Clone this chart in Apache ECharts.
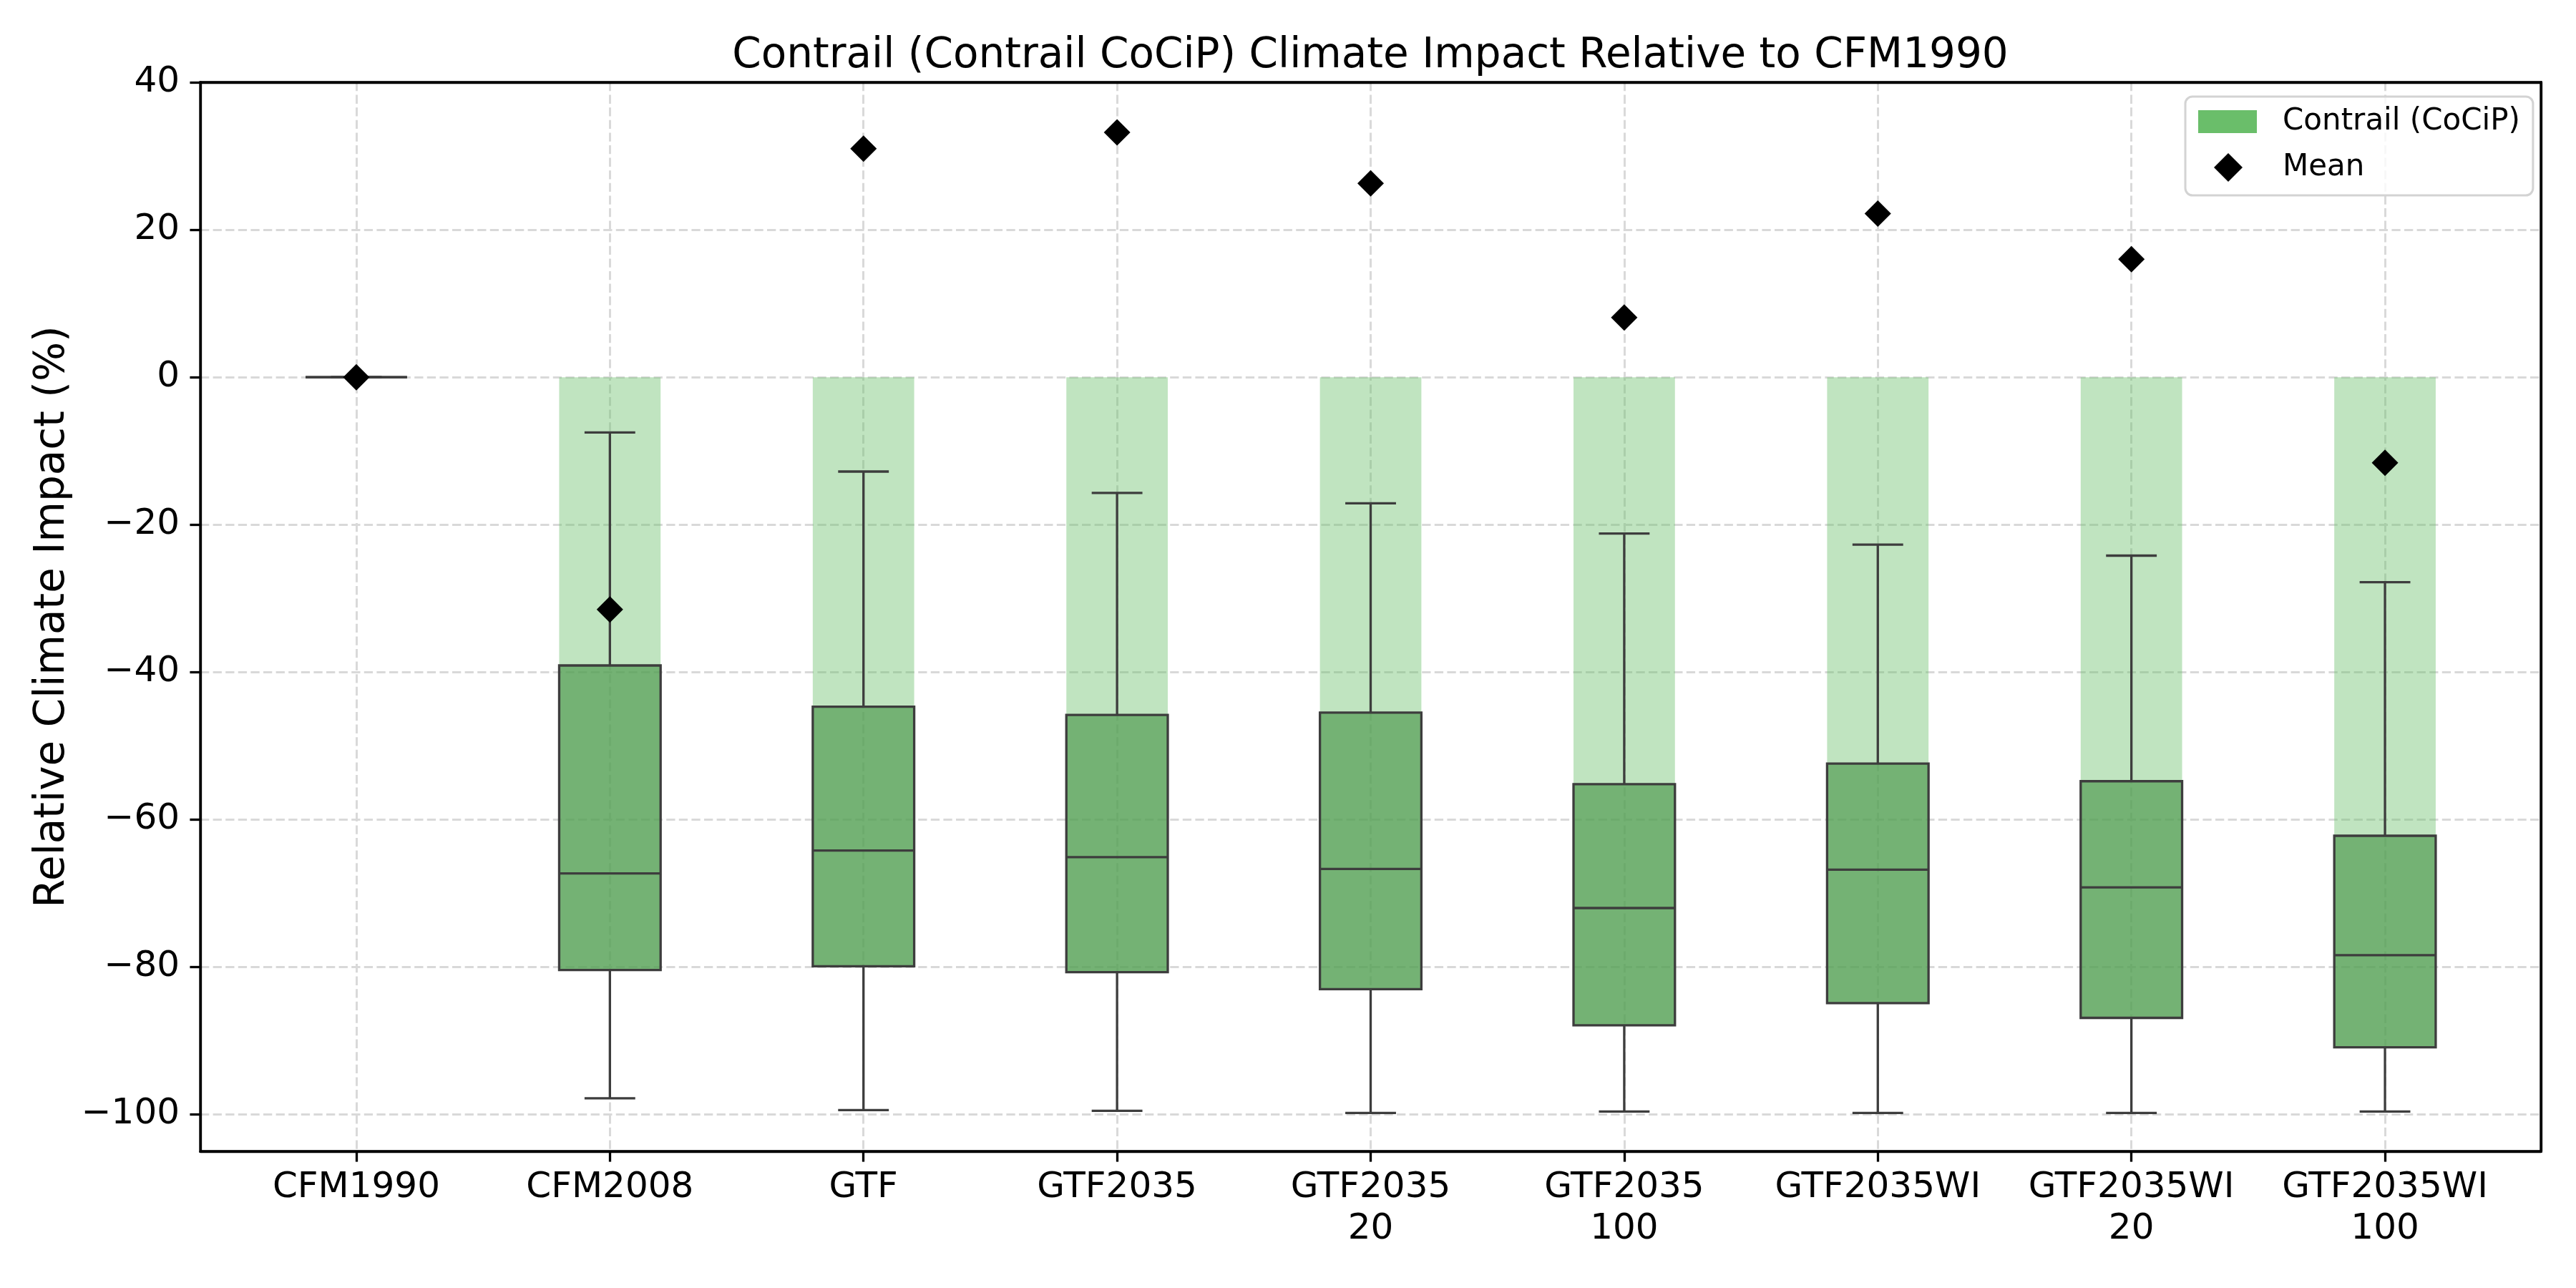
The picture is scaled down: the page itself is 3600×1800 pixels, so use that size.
<!DOCTYPE html>
<html>
<head>
<meta charset="utf-8">
<script src="https://cdn.jsdelivr.net/npm/echarts@6.0.0/dist/echarts.min.js"></script>
<style>
html, body { margin: 0; padding: 0; background: #fff; }
#chart { width: 3600px; height: 1800px; }
</style>
</head>
<body>
<div id="chart"></div>
<script>
// values
var categories = ['CFM1990', 'CFM2008', 'GTF', 'GTF2035', 'GTF2035\n20', 'GTF2035\n100', 'GTF2035WI', 'GTF2035WI\n20', 'GTF2035WI\n100'];
var whiskerLow = [0, -97.8, -99.4, -99.5, -99.8, -99.6, -99.8, -99.8, -99.6];
var q1 = [0, -80.4, -79.9, -80.7, -83.0, -87.9, -84.9, -86.9, -90.9];
var median = [0, -67.3, -64.2, -65.1, -66.7, -72.0, -66.8, -69.2, -78.4];
var q3 = [0, -39.1, -44.7, -45.8, -45.5, -55.2, -52.4, -54.8, -62.2];
var whiskerHigh = [0, -7.5, -12.8, -15.7, -17.1, -21.2, -22.7, -24.2, -27.8];
var means = [0, -31.5, 31.0, 33.2, 26.3, 8.1, 22.2, 16.0, -11.6];
var yTicks = [-100, -80, -60, -40, -20, 0, 20, 40];

var font = 'DejaVu Sans';
var edge = '#3d3d3d';
var boxW = 0.4, capW = 0.2;
var xMin = -0.615, xMax = 8.615, yMin = -105, yMax = 40;

var xPos = categories.map(function (c, i) { return i; });
// light bar goes from 0 down to the upper quartile
var barData = xPos.map(function (x, i) { return [x, q3[i]]; });
var boxData = xPos.map(function (x, i) {
	return [x, whiskerLow[i], q1[i], median[i], q3[i], whiskerHigh[i]];
});
var meanData = xPos.map(function (x, i) { return [x, means[i]]; });

function minus(v) {
	return v < 0 ? '\u2212' + Math.abs(v) : String(v);
}

function renderBar(params, api) {
	var x = api.value(0);
	var w = api.size([boxW, 0])[0];
	var a = api.coord([x, 0]), b = api.coord([x, api.value(1)]);
	return {
		type: 'rect',
		shape: { x: a[0] - w / 2, y: Math.min(a[1], b[1]), width: w, height: Math.abs(b[1] - a[1]) },
		style: { fill: 'rgba(106,190,105,0.42)' }
	};
}

function renderBox(params, api) {
	var x = api.value(0);
	var w = api.size([boxW, 0])[0], cw = api.size([capW, 0])[0];
	var lo = api.coord([x, api.value(1)]),
		b1 = api.coord([x, api.value(2)]),
		md = api.coord([x, api.value(3)]),
		b3 = api.coord([x, api.value(4)]),
		hi = api.coord([x, api.value(5)]);
	var cx = lo[0];
	var line = { stroke: edge, lineWidth: 3.3 };
	return {
		type: 'group',
		children: [
			{ type: 'line', shape: { x1: cx, y1: hi[1], x2: cx, y2: b3[1] }, style: line },
			{ type: 'line', shape: { x1: cx, y1: b1[1], x2: cx, y2: lo[1] }, style: line },
			{ type: 'line', shape: { x1: cx - cw / 2, y1: hi[1], x2: cx + cw / 2, y2: hi[1] }, style: line },
			{ type: 'line', shape: { x1: cx - cw / 2, y1: lo[1], x2: cx + cw / 2, y2: lo[1] }, style: line },
			{ type: 'rect', shape: { x: cx - w / 2, y: b3[1], width: w, height: b1[1] - b3[1] },
				style: { fill: 'rgba(81,159,81,0.8)', stroke: edge, lineWidth: 3.3 } },
			{ type: 'line', shape: { x1: cx - w / 2, y1: md[1], x2: cx + w / 2, y2: md[1] }, style: line }
		]
	};
}

var chart = echarts.init(document.getElementById('chart'));
var gridLine = { show: true, lineStyle: { color: '#d9d9d9', width: 3, type: [12.3, 5.3] } };
var legendText = { fontFamily: font, fontSize: 42, color: '#000', lineHeight: 50 };
var spine = { show: true, onZero: false, lineStyle: { color: '#000', width: 3.3 } };
// plain frame axes for the top and right spines
var frameAxis = { type: 'value', axisLine: spine, axisTick: { show: false }, axisLabel: { show: false }, splitLine: { show: false } };

chart.setOption({
	animation: false,
	backgroundColor: '#fff',
	textStyle: { fontFamily: font },
	title: {
		text: 'Contrail (Contrail CoCiP) Climate Impact Relative to CFM1990',
		left: 1915,
		top: 50,
		padding: 0,
		textAlign: 'center',
		textStyle: { fontFamily: font, fontSize: 58, fontWeight: 'normal', color: '#000' }
	},
	legend: [{
		// framed legend; its bottom padding leaves room for the Mean entry below
		orient: 'vertical',
		left: 3054,
		top: 135,
		padding: [10, 18, 78, 18],
		width: 441,
		itemWidth: 82,
		itemHeight: 32,
		align: 'left',
		backgroundColor: 'rgba(255,255,255,0.8)',
		borderColor: '#d3d3d3',
		borderWidth: 3,
		borderRadius: 10,
		z: 4,
		textStyle: Object.assign({ padding: [0, 0, 0, 31] }, legendText),
		data: [{ name: 'Contrail (CoCiP)', icon: 'rect', itemStyle: { color: '#6abe6a' } }]
	}, {
		orient: 'vertical',
		left: 3094,
		top: 209,
		padding: 0,
		itemWidth: 40,
		itemHeight: 40,
		align: 'left',
		z: 5,
		textStyle: Object.assign({ padding: [0, 0, 0, 51] }, legendText),
		data: [{ name: 'Mean', icon: 'diamond', itemStyle: { color: '#000', opacity: 1 } }]
	}],
	grid: {
		left: 280, right: 49, top: 115, bottom: 191,
		show: true, borderColor: '#000', borderWidth: 3.3
	},
	xAxis: [{
		type: 'value',
		min: xMin,
		max: xMax,
		axisLine: spine,
		axisTick: { show: true, customValues: xPos, length: 14.6, lineStyle: { color: '#000', width: 3.3 } },
		axisLabel: {
			customValues: xPos,
			margin: 22,
			fontFamily: font, fontSize: 50, color: '#000', lineHeight: 58,
			formatter: function (v) { return categories[Math.round(v)]; }
		},
		splitLine: Object.assign({ customValues: xPos }, gridLine)
	}, Object.assign({ position: 'top', min: xMin, max: xMax }, frameAxis)],
	yAxis: [{
		type: 'value',
		min: yMin,
		max: yMax,
		name: 'Relative Climate Impact (%)',
		nameLocation: 'middle',
		nameGap: 176,
		nameTextStyle: { fontFamily: font, fontSize: 58, color: '#000' },
		axisLine: spine,
		axisTick: { show: true, customValues: yTicks, length: 14.6, lineStyle: { color: '#000', width: 3.3 } },
		axisLabel: {
			customValues: yTicks,
			margin: 29,
			fontFamily: font, fontSize: 50, color: '#000',
			formatter: minus
		},
		splitLine: Object.assign({ customValues: yTicks }, gridLine)
	}, Object.assign({ position: 'right', min: yMin, max: yMax }, frameAxis)],
	series: [
		{
			name: 'Contrail (CoCiP)',
			type: 'custom',
			renderItem: renderBar,
			encode: { x: 0, y: 1 },
			itemStyle: { color: '#6abe6a' },
			data: barData,
			z: 2
		},
		{
			name: 'Box',
			type: 'custom',
			renderItem: renderBox,
			encode: { x: 0, y: [1, 2, 3, 4, 5] },
			data: boxData,
			z: 3
		},
		{
			name: 'Mean',
			type: 'scatter',
			symbol: 'diamond',
			symbolSize: 37,
			itemStyle: { color: '#000', opacity: 1 },
			data: meanData,
			z: 4
		}
	]
});
</script>
</body>
</html>
